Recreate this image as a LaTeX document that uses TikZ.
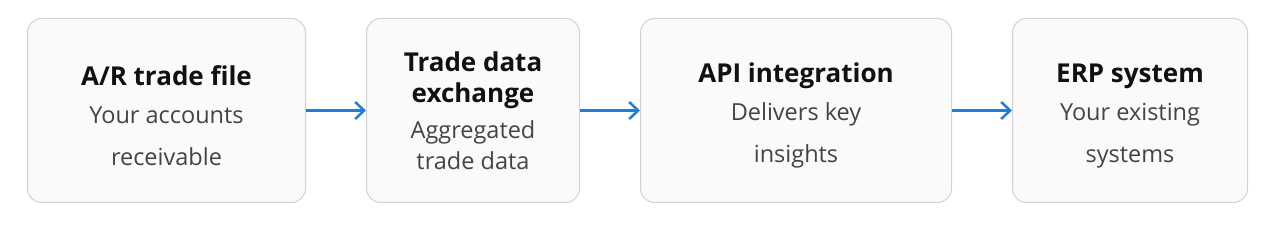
\documentclass[tikz,border=0pt]{standalone}
\usepackage{fontspec}
\setmainfont{Open Sans}
\usepackage{tikz}
\usetikzlibrary{arrows.meta,positioning}
\usepackage{xcolor}
\definecolor{boxfill}{HTML}{FAFAFA}
\definecolor{boxline}{HTML}{D2D2D2}
\definecolor{flowblue}{HTML}{1E7FD8}
\definecolor{subgray}{HTML}{444444}
\definecolor{titleblack}{HTML}{111111}
\newcommand{\ttl}[1]{{\fontsize{26}{31}\selectfont\bfseries\color{titleblack}#1}}
\newcommand{\lift}{\rule{0pt}{30pt}}

\begin{document}
\begin{tikzpicture}[
        % node distance: vertical, horizontal
            node distance=0pt and 60pt,
        % uniform style for the four stages
            box/.style={rectangle, draw=boxline, fill=boxfill, line width=1pt, rounded corners=14pt, align=center, minimum height=184pt, inner sep=0pt, font=\fontsize{23.5}{31}\selectfont, text=subgray},
            arrow/.style={-{Straight Barb[length=9pt,width=17pt]}, line width=2.5pt, flowblue}
        ]
            \useasboundingbox (0,0) rectangle (1274pt,-232pt);

            % --- STAGES ---
            \node[box, minimum width=278pt, anchor=north west] (arfile) at (27pt,-18pt) {\lift\ttl{A/R trade file}\\[7pt] Your accounts\\[11pt] receivable};
            \node[box, minimum width=213pt, right=of arfile] (exchange) {\ttl{Trade data}\\ \ttl{exchange}\\[5pt] Aggregated\\ trade data};
            \node[box, minimum width=311pt, right=of exchange] (api) {\lift\ttl{API integration}\\[7pt] Delivers key\\[11pt] insights};
            \node[box, minimum width=235pt, right=of api] (erp) {\lift\ttl{ERP system}\\[7pt] Your existing\\[11pt] systems};

            % --- LINKS ---
            \draw[arrow] (arfile.east) -- (exchange.west);
            \draw[arrow] (exchange.east) -- (api.west);
            \draw[arrow] (api.east) -- (erp.west);
        \end{tikzpicture}
\end{document}
